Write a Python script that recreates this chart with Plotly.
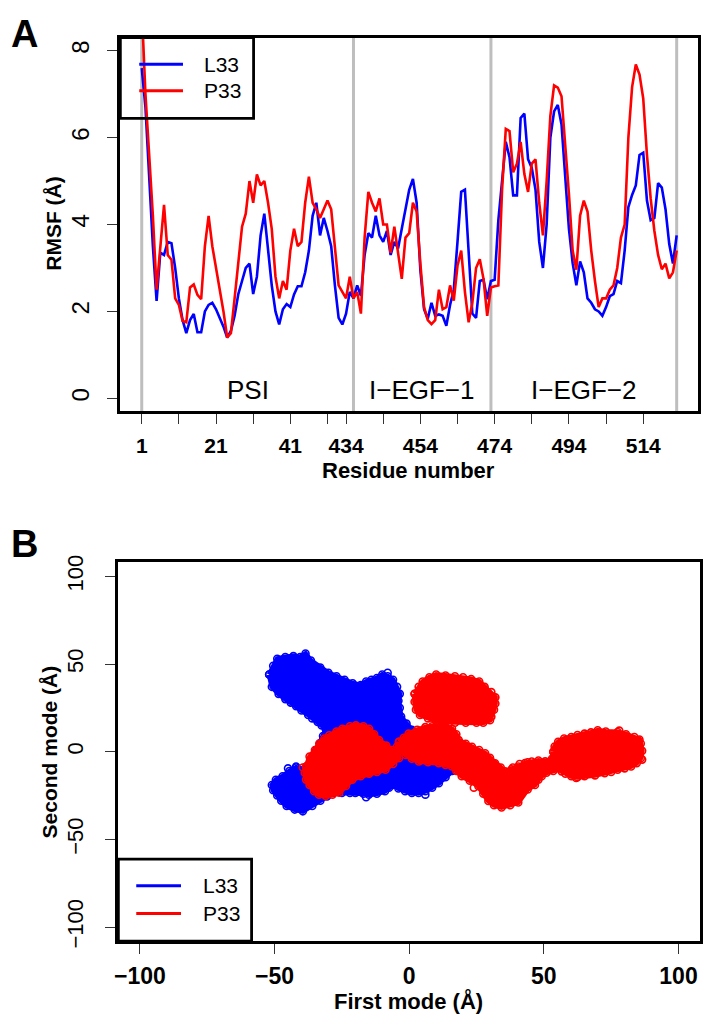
import plotly.graph_objects as go

W, H = 709, 1027

# ---------------- Panel A data ----------------
residues = list(range(1, 56)) + list(range(434, 524))
rmsf_L33 = [
    7.6, 6.7, 5.1, 3.5, 2.24, 3.35, 3.3, 3.6, 3.57, 3.0,
    2.3, 1.8, 1.5, 1.8, 1.94, 1.52, 1.52, 2.0, 2.15, 2.2,
    2.05, 1.85, 1.65, 1.4, 1.55, 1.9, 2.4, 2.7, 3.0, 3.1,
    2.4, 2.8, 3.75, 4.25, 3.4, 2.6, 2.0, 1.7, 2.05, 2.17,
    2.1, 2.39, 2.58, 2.58, 2.9, 3.4, 4.2, 4.5, 3.75, 4.15,
    3.85, 3.5, 2.6, 1.85, 1.7, 1.95, 2.45, 2.3, 2.6, 2.36,
    3.3, 3.8, 3.7, 4.2, 3.75, 3.6, 3.85, 3.3, 3.6, 3.45,
    3.9, 4.4, 4.8, 5.05, 4.5, 2.95, 2.05, 1.83, 2.2, 1.9,
    1.93, 1.9, 1.67, 2.15, 2.5, 3.6, 4.75, 4.8, 3.3, 1.95,
    1.85, 2.7, 2.73, 2.28, 2.7, 2.73, 4.1, 5.1, 5.9, 5.55,
    4.67, 4.67, 6.45, 6.55, 5.5, 5.3, 4.8, 3.6, 3.0, 4.0,
    6.0, 6.6, 6.75, 6.3, 5.1, 3.9, 3.11, 2.6, 3.15, 2.9,
    2.3, 2.2, 2.05, 2.0, 1.9, 2.1, 2.35, 2.4, 2.7, 2.65,
    3.4, 4.4, 4.68, 4.9, 5.6, 5.65, 4.55, 4.1, 4.15, 4.95,
    4.85, 4.35, 3.55, 3.1, 3.75,
]
rmsf_P33 = [
    9.0, 7.0, 5.6, 4.2, 2.5, 3.4, 4.45, 3.3, 3.19, 2.3,
    2.15, 1.78, 1.75, 2.55, 2.62, 2.38, 2.28, 3.5, 4.2, 3.5,
    3.0, 2.55, 2.0, 1.4, 1.5, 2.3, 3.2, 3.95, 4.25, 5.0,
    4.5, 5.15, 4.9, 5.0, 4.5, 3.9, 2.8, 2.3, 2.7, 2.5,
    3.4, 3.9, 3.5, 3.6, 4.5, 5.1, 4.5, 4.35, 4.15, 4.35,
    4.55, 4.35, 3.5, 2.6, 2.45, 2.3, 2.8, 2.3, 2.45, 1.95,
    3.7, 4.75, 4.5, 4.3, 4.6, 4.0, 4.0, 3.35, 3.95, 3.4,
    2.75, 3.7, 3.8, 4.5, 4.3, 3.1, 2.1, 1.8, 1.71, 1.8,
    2.5, 2.05, 2.1, 2.6, 2.25, 3.05, 3.4, 2.45, 1.75, 2.2,
    3.0, 3.2, 2.75, 1.9, 2.55, 2.58, 2.6, 4.8, 6.2, 6.15,
    5.2, 5.4, 5.9, 5.16, 4.75, 5.4, 5.5, 4.5, 3.75, 5.0,
    6.5, 7.2, 7.15, 6.95, 5.9, 4.7, 3.4, 2.96, 4.2, 4.55,
    4.3, 3.4, 2.7, 2.1, 2.3, 2.3, 2.5, 2.6, 3.0, 3.7,
    4.0, 6.0, 7.16, 7.68, 7.45, 6.9, 5.6, 4.6, 3.85, 3.3,
    2.97, 3.1, 2.76, 2.9, 3.4,
]
tick_residues = [1, 11, 21, 31, 41, 51, 434, 444, 454, 464, 474, 484, 494, 504, 514]
labeled_residues = [1, 21, 41, 434, 454, 474, 494, 514]
domain_bounds = [1, 436, 473, 523]
domain_names = ["PSI", "I\u2212EGF\u22121", "I\u2212EGF\u22122"]
rmsf_ticks = [0, 2, 4, 6, 8]

# ---------------- Panel B data (outlines of dense point clouds + stray points) ----------------
L33_cloud_x = [-52, -50.5, -49, -46, -43, -40.5, -38.5, -36.5, -33, -30, -27, -24, -21, -18, -16, -14, -12, -10,
               -8, -6, -4.5, -3.5, -4, -3.5, -3, -1, 1, 3.5, 6, 8, 10, 12.5, 15, 16.5, 17, 16.5, 16, 13.5, 11,
               8.5, 6, 3.5, 1, -1.5, -4, -6, -7.5, -9, -12, -15, -17, -20, -22, -25, -28, -30.5, -33, -36,
               -39.5, -42.5, -45.5, -47.5, -49, -50.5, -51, -49.5, -47, -44.5, -42, -39, -37, -36, -34.5, -33,
               -32, -31, -32.5, -34, -36, -37.5, -40, -42, -44, -46, -48.5, -51]
L33_cloud_y = [44, 49, 53, 54, 54.5, 54, 56, 52, 48, 45, 43, 41, 39, 38, 40, 41, 42, 44,
               43, 41, 37, 33, 29, 25, 20, 16, 12.5, 10.5, 9, 7, 5, 2.5, 0, -3, -6, -9, -11, -14.5, -18,
               -20.5, -22.5, -23.5, -23.5, -22.5, -21, -19, -20.5, -22.5, -24, -24.5, -24, -23.5, -23.5, -23.5,
               -23.5, -25.5, -28, -31, -34, -33, -31, -28, -25, -22, -19, -16, -14, -11, -9, -10, -7, -3, 1, 5,
               9, 13, 15, 17, 19, 21, 23.5, 26, 28, 30, 33, 37]
L33_stray_x = [-42, -47.5, 0.5, -8, -36.5, -32.5, -45, -16, 6, -50.5]
L33_stray_y = [-8.4, -19, 12.5, 45, 22, 16.5, -9.5, -26, -24.5, 42]

P33_top_x = [2, 3.5, 5, 7.5, 10, 13.5, 17, 20, 23, 26, 28, 30.5, 32, 32, 31.5, 30, 27.5, 25, 21, 17, 13.5, 10, 7, 4, 2.5, 2]
P33_top_y = [33, 37, 40, 42.5, 44, 43.5, 43, 42.5, 41.5, 40, 37, 34, 31, 27.5, 24, 18, 16.5, 16.5, 16.5, 16.5, 17, 17.5, 19, 21, 24, 28.5]
P33_left_x = [-38.3, -37, -35, -33.4, -31.5, -29.7, -27, -24.8, -22, -19.8, -17, -14.9, -13, -11.2, -8.5, -6.3,
              -4.5, -3.8, -6, -8.8, -12, -14.9, -18, -21.1, -23.5, -26, -28.5, -31, -33.5, -35.3, -37, -38.3, -38.8]
P33_left_y = [-8.4, -2.8, 1, 4.7, 7.5, 9.4, 11.5, 13.1, 14.5, 15, 14.5, 13.1, 10, 6.6, 3.5, 0.9,
              -1.5, -3.7, -7, -10.3, -11.5, -12.5, -14, -15.9, -19.5, -23.4, -24.5, -25.3, -24.5, -22.5, -19, -15.9, -12]
P33_mid_x = [-3.8, -2, -0.2, 3, 6, 8.5, 11, 13.5, 15.9, 17.5, 18.4, 21, 23.3, 26, 28.2, 30, 31.9, 34, 35.6, 38,
             40.5, 43, 45.5, 48, 50.5, 53.5, 55.3, 56, 53.5, 51, 49.2, 48, 46.7, 44, 40.5, 37.5, 34.3, 31.5, 29.4,
             27.5, 25.7, 22.5, 19.5, 17.5, 15.9, 13.5, 11, 7, 3.6, 1, -1.3, -3, -4.5]
P33_mid_y = [5.6, 8, 10.3, 12.5, 14, 14.5, 15, 14.5, 13.1, 10, 6.6, 4.5, 2.8, 1, -0.9, -3.5, -6.6, -9, -11.2, -10,
             -8.4, -6.5, -5.6, -5, -5.5, -4, -5.5, -9, -11, -12, -14, -15.9, -19, -21.5, -29, -30.5, -31.8, -30.5, -28.1,
             -24, -19.7, -16.5, -14, -11, -8.4, -7.5, -6.6, -6, -5.6, -4, -1.9, 0.9, 3]
P33_right_x = [53.5, 54, 55.3, 57.5, 60.2, 62.5, 65.1, 67.5, 70, 73, 77.4, 80.5, 83.6, 85.5, 86, 86.5, 86, 84.5, 82.4,
               80, 77.4, 75, 72.6, 69, 65.1, 62.5, 60.2, 58, 56.6, 54.5, 53.5, 53]
P33_right_y = [0, 3, 5.6, 7.5, 8.4, 9.5, 10.3, 11, 12.2, 11.5, 11.2, 10, 8.4, 7, 4.7, 0.5, -3.7, -6.5, -8.4,
               -9.5, -10.3, -11.5, -12.2, -13.5, -14, -14.5, -14, -12.5, -11.2, -9.5, -8.4, -4]
P33_stray_x = [86.5, 85, 41, 44, 38.5, 50.5, 24, 5, -39.5, 30.5, 62, 78]
P33_stray_y = [-4.5, 6.5, -7, -6, -9, -7.5, -20.5, 22, -9, 20, -15, 12]

mode_ticks = [-100, -50, 0, 50, 100]

BLUE = "#0000FF"
RED = "#FF0000"
GRAY = "#BEBEBE"
FONT = "Liberation Sans, Arial, sans-serif"


def paper(xp, yp):
    return xp / W, 1 - yp / H


fig = go.Figure()

# ---- Panel A traces ----
positions = list(range(1, len(residues) + 1))
fig.add_trace(go.Scatter(x=positions, y=rmsf_L33, mode="lines", line=dict(color=BLUE, width=2.6),
                         xaxis="x", yaxis="y", showlegend=False, cliponaxis=True))
fig.add_trace(go.Scatter(x=positions, y=rmsf_P33, mode="lines", line=dict(color=RED, width=2.6),
                         xaxis="x", yaxis="y", showlegend=False, cliponaxis=True))

# ---- Panel B traces ----
mk = dict(symbol="circle-open", size=7, line=dict(width=1.6))


def cloud(xs, ys, color):
    return go.Scatter(x=xs + [xs[0]], y=ys + [ys[0]], mode="lines+markers", fill="toself",
                      fillcolor=color, line=dict(color=color, width=5),
                      marker=dict(color=color, **mk), xaxis="x2", yaxis="y2", showlegend=False)


fig.add_trace(cloud(L33_cloud_x, L33_cloud_y, BLUE))
fig.add_trace(go.Scatter(x=L33_stray_x, y=L33_stray_y, mode="markers", marker=dict(color=BLUE, **mk),
                         xaxis="x2", yaxis="y2", showlegend=False))
for xs, ys in [(P33_top_x, P33_top_y), (P33_left_x, P33_left_y), (P33_mid_x, P33_mid_y), (P33_right_x, P33_right_y)]:
    fig.add_trace(cloud(xs, ys, RED))
fig.add_trace(go.Scatter(x=P33_stray_x, y=P33_stray_y, mode="markers", marker=dict(color=RED, **mk),
                         xaxis="x2", yaxis="y2", showlegend=False))

# ---- Axes ----
tick_pos = [residues.index(r) + 1 for r in tick_residues]
tick_txt = [str(r) if r in labeled_residues else "" for r in tick_residues]
n = len(residues)
pad = 0.04 * (n - 1)

frame = dict(showline=True, linewidth=2.8, linecolor="black", mirror=True, showgrid=False, zeroline=False,
             ticks="outside", ticklen=10, tickwidth=1.4, tickcolor="#333")

fig.update_layout(
    width=W, height=H, margin=dict(l=0, r=0, t=0, b=0), autosize=False,
    paper_bgcolor="white", plot_bgcolor="white", showlegend=False,
    font=dict(family=FONT, color="black"),
    xaxis=dict(domain=[117 / W, 698 / W], range=[1 - pad, n + pad], tickvals=tick_pos, ticktext=tick_txt,
               tickfont=dict(size=21, weight="bold"), ticklabelstandoff=3, anchor="y", **frame),
    yaxis=dict(domain=[1 - 410 / H, 1 - 31 / H], range=[-0.3, 8.3], tickvals=rmsf_ticks,
               tickfont=dict(size=24), tickangle=-90, ticklabelstandoff=9, anchor="x", **frame),
    xaxis2=dict(domain=[115 / W, 700 / W], range=[-108, 108], tickvals=mode_ticks,
                tickfont=dict(size=23, weight="bold"), ticklabelstandoff=2, anchor="y2", **frame),
    yaxis2=dict(domain=[1 - 947 / H, 1 - 563 / H], range=[-108, 108], tickvals=mode_ticks,
                tickfont=dict(size=22), tickangle=-90, ticklabelstandoff=14, anchor="x2", **frame),
)

shapes = []
# domain boundary lines
for r in domain_bounds:
    p = residues.index(r) + 1
    shapes.append(dict(type="line", xref="x", yref="y domain", x0=p, x1=p, y0=0, y1=1,
                       line=dict(color=GRAY, width=3), layer="below"))


def legend_box(x0, y0, x1, y1, ly1, ly2, lx0, lx1, tx, names):
    a, b = paper(x0, y0)
    c, d = paper(x1, y1)
    shapes.append(dict(type="rect", xref="paper", yref="paper", x0=a, y0=d, x1=c, y1=b,
                       line=dict(color="black", width=2.8)))
    for ly, col in [(ly1, BLUE), (ly2, RED)]:
        p0 = paper(lx0, ly)
        p1 = paper(lx1, ly)
        shapes.append(dict(type="line", xref="paper", yref="paper", x0=p0[0], y0=p0[1], x1=p1[0], y1=p1[1],
                           line=dict(color=col, width=3)))
    anns = []
    for ly, name in [(ly1, names[0]), (ly2, names[1])]:
        px_, py_ = paper(tx, ly)
        anns.append(dict(x=px_, y=py_, xref="paper", yref="paper", text=name, showarrow=False,
                         xanchor="left", yanchor="middle", font=dict(size=21, family=FONT)))
    return anns


annotations = []
annotations += legend_box(117, 31, 251, 113, 58, 85, 136, 180, 199, ["L33", "P33"])
annotations += legend_box(115, 864, 249, 947, 891, 919, 133, 178, 198, ["L33", "P33"])

# domain names
for i, name in enumerate(domain_names):
    p0 = residues.index(domain_bounds[i]) + 1
    p1 = residues.index(domain_bounds[i + 1]) + 1
    annotations.append(dict(x=(p0 + p1) / 2, y=0.2, xref="x", yref="y", text=name, showarrow=False,
                            xanchor="center", yanchor="middle", font=dict(size=26, family=FONT)))


def text(xp, yp, s, size, bold=False, angle=0):
    a, b = paper(xp, yp)
    annotations.append(dict(x=a, y=b, xref="paper", yref="paper", text=s, showarrow=False,
                            xanchor="center", yanchor="middle", textangle=angle,
                            font=dict(size=size, family=FONT, weight="bold" if bold else "normal")))


text(21, 27, "A", 38, bold=True)
text(21, 544, "B", 38, bold=True)
text(49, 220, "RMSF (Å)", 21, bold=True, angle=-90)
text(407, 470, "Residue number", 22, bold=True)
text(46, 755, "Second mode (Å)", 21, bold=True, angle=-90)
text(407, 1008, "First mode (Å)", 22, bold=True)

fig.update_layout(shapes=shapes, annotations=annotations)
fig.write_html("out.html", config={"displayModeBar": False},
               post_script="document.body.style.margin='0';document.body.style.overflow='hidden';")
